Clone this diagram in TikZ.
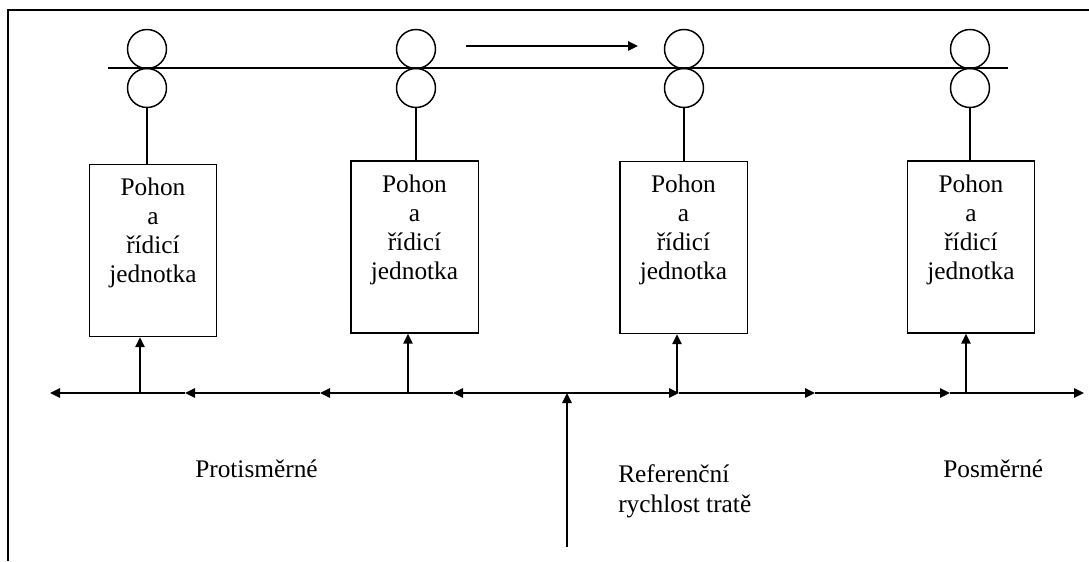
\documentclass[tikz,border=0pt]{standalone}
\usepackage{fontspec}
\setmainfont{Liberation Serif}
\usetikzlibrary{arrows.meta}
\begin{document}
\begin{tikzpicture}[x=0.75pt,y=-0.75pt,
  >={Triangle[length=7.5pt,width=7pt]},
  thin line/.style={line width=1.1pt},
  arrow line/.style={line width=1.4pt,->},
  roller/.style={circle,draw,line width=1.1pt,minimum size=29.25pt,inner sep=0pt},
  drivebox/.style={rectangle,draw,line width=1.1pt,minimum width=95.6pt,minimum height=129pt,inner sep=0pt},
  drivetext/.style={anchor=north,inner sep=0pt,align=center,font=\fontsize{19}{21.75}\selectfont},
  caption/.style={inner sep=0pt,font=\fontsize{19}{22.5}\selectfont}
]
\useasboundingbox (0,0) rectangle (1089,561);

% frame
\coordinate (fbl) at (8,561);
\coordinate (ftl) at (8,10);
\coordinate (ftr) at (1089,10);
\draw[thin line] (fbl) -- (ftl) -- (ftr);

% web and its running direction
\coordinate (webL) at (108,68);
\coordinate (webR) at (1008,68);
\draw[thin line] (webL) -- (webR);
\coordinate (dirA) at (466,46);
\coordinate (dirB) at (638,46);
\draw[arrow line] (dirA) -- (dirB);

% roller pairs
\foreach \i/\x in {1/147,2/416,3/684,4/970}{
  \node[roller] (r\i a) at (\x,49) {};
  \node[roller] (r\i b) at (\x,88) {};
}

% drive and control units
\node[drivebox] (b1) at (153,250.5) {};
\node[drivebox] (b2) at (414.5,247) {};
\node[drivebox] (b3) at (683.5,247.5) {};
\node[drivebox] (b4) at (971,247) {};
\foreach \i in {1,...,4}{
  \node[drivetext] (t\i) at ([yshift=-10.5pt]b\i.north) {Pohon\\a\\řídicí\\jednotka};
  \draw[thin line] (r\i b.south) -- (r\i b.south |- b\i.north);
}

% speed reference bus
\foreach \n/\x in {0/50,1/185,2/320,3/453,4/567,5/679,6/815,7/950,8/1084}{
  \coordinate (a\n) at (\x,393);
}
\draw[arrow line] (a4) -- (a3);
\draw[arrow line] (a3) -- (a2);
\draw[arrow line] (a2) -- (a1);
\draw[arrow line] (a1) -- (a0);
\draw[arrow line] (a4) -- (a5);
\draw[arrow line] (a5) -- (a6);
\draw[arrow line] (a6) -- (a7);
\draw[arrow line] (a7) -- (a8);

% taps from the bus to each unit
\coordinate (tap1) at (140,393);
\coordinate (tap2) at (408,393);
\coordinate (tap3) at (677,393);
\coordinate (tap4) at (966,393);
\foreach \i in {1,...,4}{
  \draw[arrow line] (tap\i) -- (tap\i |- b\i.south);
}

% line speed reference input
\coordinate (refin) at (567,547);
\draw[arrow line] (refin) -- (a4);

% captions
\node[caption,anchor=base west] (lproti) at (195,477) {Protisměrné};
\node[caption,anchor=north west,align=left] (lref) at (618,464.5) {Referenční\\rychlost tratě};
\node[caption,anchor=base west] (lpos) at (943,477) {Posměrné};
\end{tikzpicture}
\end{document}
